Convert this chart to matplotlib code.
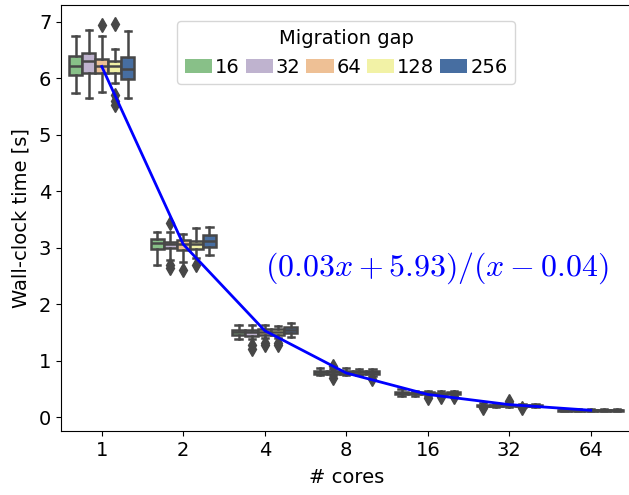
import colorsys
import matplotlib
matplotlib.use('Agg')
import matplotlib.pyplot as plt
import matplotlib.colors as mcolors
from matplotlib.patches import Patch
import numpy as np

cores = ['1', '2', '4', '8', '16', '32', '64']
gaps = ['16', '32', '64', '128', '256']
palette = ['#7fc97f', '#beaed4', '#fdc086', '#ffff99', '#386cb0']

# box stats per migration gap, one entry per core count: (lo, q1, med, q3, hi)
box_16 = [(5.74, 6.06, 6.22, 6.40, 6.75), (2.69, 2.97, 3.09, 3.15, 3.27), (1.39, 1.45, 1.51, 1.55, 1.63),
          (0.74, 0.77, 0.79, 0.82, 0.86), (0.37, 0.40, 0.42, 0.44, 0.49), (0.18, 0.19, 0.20, 0.22, 0.24),
          (0.10, 0.11, 0.12, 0.13, 0.14)]
box_32 = [(5.66, 6.10, 6.31, 6.44, 6.86), (2.78, 2.99, 3.06, 3.10, 3.27), (1.38, 1.44, 1.50, 1.55, 1.63),
          (0.74, 0.77, 0.79, 0.81, 0.85), (0.38, 0.40, 0.42, 0.43, 0.46), (0.18, 0.19, 0.20, 0.21, 0.23),
          (0.10, 0.11, 0.12, 0.13, 0.14)]
box_64 = [(5.76, 6.09, 6.22, 6.35, 6.75), (2.75, 2.96, 3.06, 3.13, 3.25), (1.40, 1.45, 1.51, 1.56, 1.63),
          (0.75, 0.77, 0.80, 0.82, 0.86), (0.38, 0.40, 0.42, 0.44, 0.47), (0.18, 0.19, 0.21, 0.22, 0.24),
          (0.10, 0.11, 0.12, 0.13, 0.14)]
box_128 = [(5.91, 6.10, 6.21, 6.31, 6.52), (2.81, 2.97, 3.07, 3.12, 3.34), (1.40, 1.45, 1.50, 1.56, 1.62),
           (0.75, 0.77, 0.79, 0.81, 0.85), (0.38, 0.40, 0.41, 0.43, 0.46), (0.18, 0.19, 0.20, 0.21, 0.23),
           (0.10, 0.11, 0.12, 0.13, 0.14)]
box_256 = [(5.66, 5.99, 6.16, 6.37, 6.83), (2.87, 3.01, 3.12, 3.22, 3.37), (1.41, 1.49, 1.54, 1.60, 1.67),
           (0.73, 0.77, 0.79, 0.82, 0.85), (0.38, 0.40, 0.42, 0.44, 0.46), (0.18, 0.19, 0.20, 0.21, 0.23),
           (0.10, 0.11, 0.12, 0.13, 0.14)]

fl_16 = [[], [], [], [], [], [0.16], []]
fl_32 = [[], [3.43, 2.69, 2.64], [1.28, 1.21], [0.90, 0.70], [], [], []]
fl_64 = [[6.94], [2.60], [1.32, 1.27], [], [0.33], [0.28], []]
fl_128 = [[6.97, 5.70, 5.60, 5.53], [2.69], [1.31, 1.27], [], [0.35], [0.16], []]
fl_256 = [[], [], [], [0.68], [0.36], [], []]

fit_vals = [6.21, 3.06, 1.53, 0.78, 0.40, 0.22, 0.12]

boxes = [box_16, box_32, box_64, box_128, box_256]
fliers = [fl_16, fl_32, fl_64, fl_128, fl_256]


def desat(c, prop=0.75):
    r, g, b = mcolors.to_rgb(c)
    h, l, s = colorsys.rgb_to_hls(r, g, b)
    return colorsys.hls_to_rgb(h, l, s * prop)


colors = [desat(c) for c in palette]
gray = '#474747'

fig = plt.figure(figsize=(6.29, 4.95), dpi=100)
ax = fig.add_axes([0.097, 0.129, 0.907, 0.861])

w = 0.16
x = np.arange(len(cores))
for j in range(len(gaps)):
    stats = []
    for k in range(len(cores)):
        lo, q1, med, q3, hi = boxes[j][k]
        stats.append(dict(whislo=lo, q1=q1, med=med, q3=q3, whishi=hi, fliers=fliers[j][k]))
    ax.bxp(stats, positions=x + (j - 2) * w, widths=w * 0.98, patch_artist=True,
           boxprops=dict(facecolor=colors[j], edgecolor=gray, linewidth=1.8),
           medianprops=dict(color=gray, linewidth=1.8),
           whiskerprops=dict(color=gray, linewidth=1.8),
           capprops=dict(color=gray, linewidth=1.8),
           flierprops=dict(marker='d', markerfacecolor=gray, markeredgecolor=gray, markersize=7),
           manage_ticks=False)

ax.plot(x, fit_vals, color='blue', linewidth=2, zorder=5)

matplotlib.rcParams['mathtext.fontset'] = 'cm'
ax.text(4.11, 2.64, r'$(0.03x+5.93)/(x-0.04)$', color='blue', fontsize=23,
        ha='center', va='center')

ax.set_xlim(-0.5, 6.5)
ax.set_ylim(-0.25, 7.30)
ax.set_xticks(x)
ax.set_xticklabels(cores)
ax.tick_params(labelsize=14)
ax.set_xlabel('# cores', fontsize=14, labelpad=6)
ax.set_ylabel('Wall-clock time [s]', fontsize=14, labelpad=6)

handles = [Patch(facecolor=c, edgecolor='none') for c in colors]
ax.legend(handles, gaps, title='Migration gap', ncol=5, loc='upper center',
          bbox_to_anchor=(0.5, 0.985), fontsize=14, title_fontsize=14,
          handlelength=1.4, handletextpad=0.15, columnspacing=0.3)

plt.savefig('out.png', dpi=100)
plt.close()
